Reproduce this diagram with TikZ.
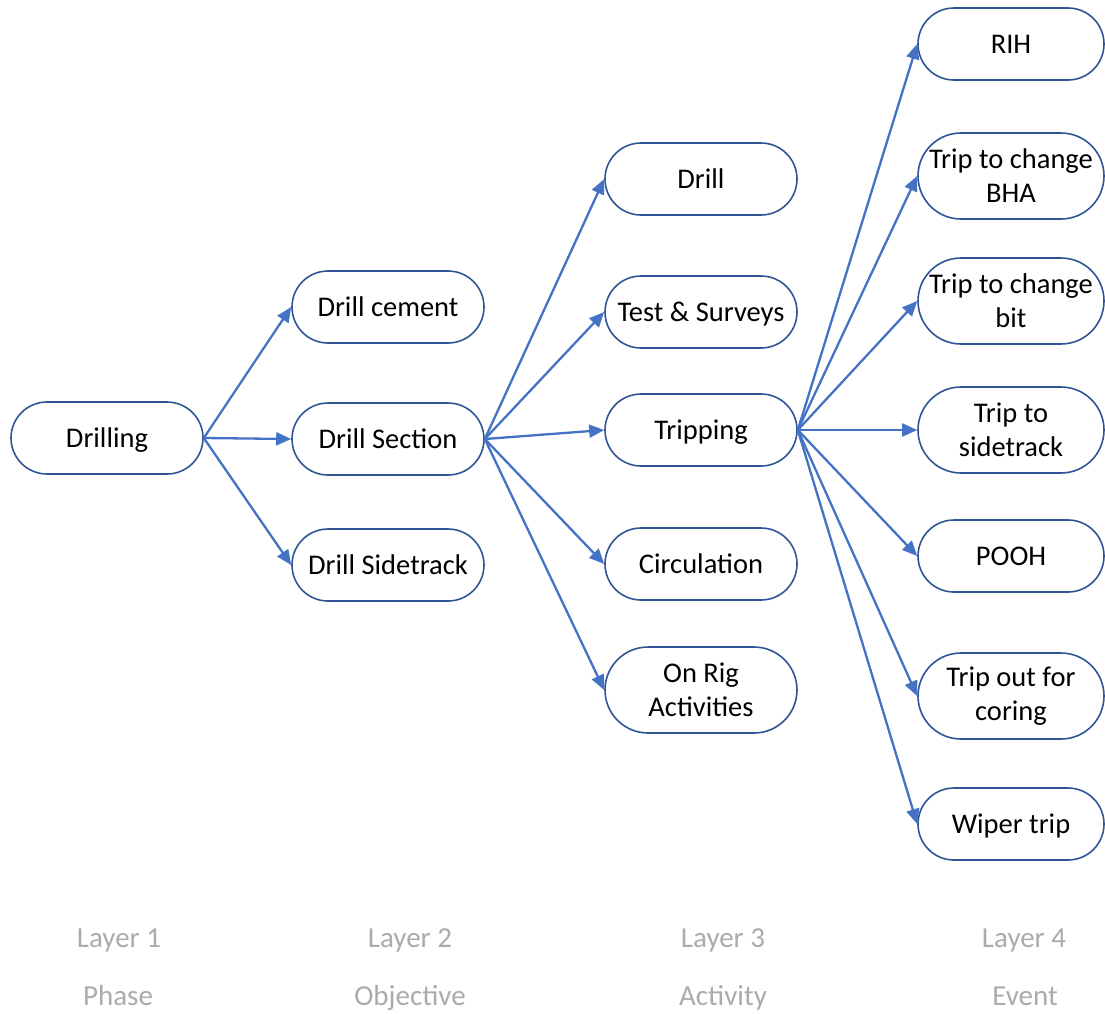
\documentclass[tikz,border=0pt]{standalone}
\usepackage{fontspec}
\setmainfont{Carlito}
\usetikzlibrary{arrows.meta}
\definecolor{boxline}{HTML}{2F5597}
\definecolor{arrowblue}{HTML}{4472C4}
\definecolor{layergray}{HTML}{ABABAB}
\begin{document}
\begin{tikzpicture}[x=1pt,y=-1pt,
  pill/.style={rectangle, draw=boxline, line width=1.6pt, fill=white,
    rounded corners=36pt, minimum height=72pt, minimum width=192pt,
    inner sep=0pt, align=center,
    font=\fontsize{28.5}{34}\selectfont},
  oneline/.style={text height=25pt, text depth=6.6pt},
  tallpill/.style={pill, rounded corners=43pt, minimum height=86pt},
  narrow/.style={minimum width=186pt},
  link/.style={draw=arrowblue, line width=2.3pt,
    -{Triangle[length=15pt,width=13pt]}},
  layertext/.style={text=layergray, anchor=base, inner sep=0pt,
    font=\fontsize{29}{34}\selectfont}]
\useasboundingbox (0,0) rectangle (1105,1013);

% Layer 1
\node[pill,oneline] (drilling) at (107,438) {Drilling};

% Layer 2
\node[pill,oneline] (cement)    at (388,307) {Drill cement};
\node[pill,oneline] (section)   at (388,439) {Drill Section};
\node[pill,oneline] (sidetrack) at (388,565) {Drill Sidetrack};

% Layer 3
\node[pill,oneline] (drill)    at (701,179) {Drill};
\node[pill,oneline] (tests)    at (701,312) {Test \& Surveys};
\node[pill,oneline] (tripping) at (701,430) {Tripping};
\node[pill,oneline] (circ)     at (701,564) {Circulation};
\node[tallpill]     (onrig)    at (701,690) {On Rig\\Activities};

% Layer 4
\node[pill,oneline,narrow] (rih)    at (1011,44)  {RIH};
\node[tallpill,narrow]     (bha)    at (1011,176) {Trip to change\\BHA};
\node[tallpill,narrow]     (bit)    at (1011,301) {Trip to change\\bit};
\node[tallpill,narrow]     (tosid)  at (1011,430) {Trip to\\sidetrack};
\node[pill,oneline,narrow] (pooh)   at (1011,556) {POOH};
\node[tallpill,narrow]     (coring) at (1011,696) {Trip out for\\coring};
\node[pill,oneline,narrow] (wiper)  at (1011,824) {Wiper trip};

% Connectors
\foreach \t in {cement,section,sidetrack}
  \draw[link] (drilling.east) -- (\t.west);
\foreach \t in {drill,tests,tripping,circ,onrig}
  \draw[link] (section.east) -- (\t.west);
\foreach \t in {rih,bha,bit,tosid,pooh,coring,wiper}
  \draw[link] (tripping.east) -- (\t.west);

% Layer captions
\node[layertext] (l1) at (119,947) {Layer 1};
\node[layertext] (l2) at (410,947) {Layer 2};
\node[layertext] (l3) at (723,947) {Layer 3};
\node[layertext] (l4) at (1024,947) {Layer 4};
\node[layertext] (p1) at (118,1005) {Phase};
\node[layertext] (p2) at (410,1005) {Objective};
\node[layertext] (p3) at (723,1005) {Activity};
\node[layertext] (p4) at (1025,1005) {Event};
\end{tikzpicture}
\end{document}
